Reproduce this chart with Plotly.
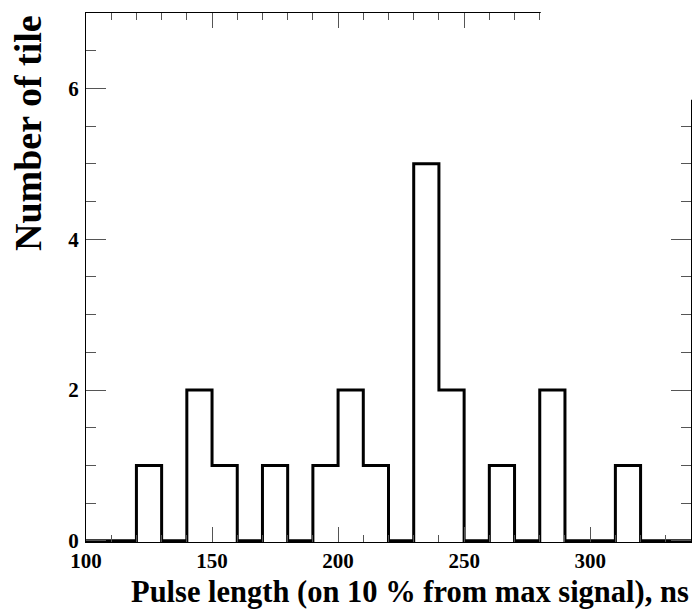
import plotly.graph_objects as go

# Histogram data: bin edges (ns) and number of tiles per bin
bin_edges = [100, 110, 120, 130, 140, 150, 160, 170, 180, 190, 200, 210,
             220, 230, 240, 250, 260, 270, 280, 290, 300, 310, 320, 330, 340]
counts = [0, 0, 1, 0, 2, 1, 0, 1, 0, 1, 2, 1,
          0, 5, 2, 0, 1, 0, 2, 0, 0, 1, 0, 0]

x_title = "Pulse length (on 10 % from max signal), ns"
y_title = "Number of tile"

FONT = "Liberation Serif, Times New Roman, serif"

step_y = counts + [counts[-1]]

fig = go.Figure()
fig.add_trace(go.Scatter(
    x=bin_edges, y=step_y, mode="lines", line_shape="hv",
    line=dict(color="black", width=3), hoverinfo="skip", showlegend=False,
))

axis_common = dict(
    showline=True, linecolor="black", linewidth=1, mirror="allticks",
    ticks="inside", tickcolor="#555", tickwidth=1,
    showgrid=False, zeroline=False,
    tickfont=dict(family=FONT, size=21, color="black", weight="bold"),
)

fig.update_xaxes(
    range=[100, 340], tick0=100, dtick=50, ticklen=15,
    minor=dict(dtick=10, ticklen=7, ticks="inside", tickcolor="#555", showgrid=False),
    **axis_common,
)
fig.update_yaxes(
    range=[-0.015, 7], tick0=0, dtick=2, ticklen=20,
    minor=dict(dtick=0.5, ticklen=10, ticks="inside", tickcolor="#555", showgrid=False),
    ticklabelstandoff=2,
    **axis_common,
)

# white patch in the top-right corner (as in the reference picture)
fig.add_shape(type="rect", xref="paper", yref="paper",
              x0=(280.4 - 100) / 240, x1=1.1, y0=5.85 / 7.015 + 0.002, y1=1.2,
              fillcolor="white", line=dict(width=0), layer="above")

fig.add_annotation(text=y_title, xref="paper", yref="paper",
                   x=(28 - 86) / 605, y=1.0 + (13 - 13) / 529,
                   xanchor="center", yanchor="top", textangle=-90, showarrow=False,
                   font=dict(family=FONT, size=38, color="black", weight="bold"))
fig.add_annotation(text=x_title, xref="paper", yref="paper",
                   x=(691 - 86) / 605, y=-(592 - 542) / 529,
                   xanchor="right", yanchor="middle", showarrow=False,
                   font=dict(family=FONT, size=30.5, color="black", weight="bold"))

fig.update_layout(
    width=692, height=611,
    margin=dict(l=86, r=1, t=13, b=69),
    paper_bgcolor="white", plot_bgcolor="white",
    showlegend=False,
)

fig.write_html("out.html", config={"displayModeBar": False},
               post_script="document.body.style.margin='0';document.body.style.overflow='hidden';")
